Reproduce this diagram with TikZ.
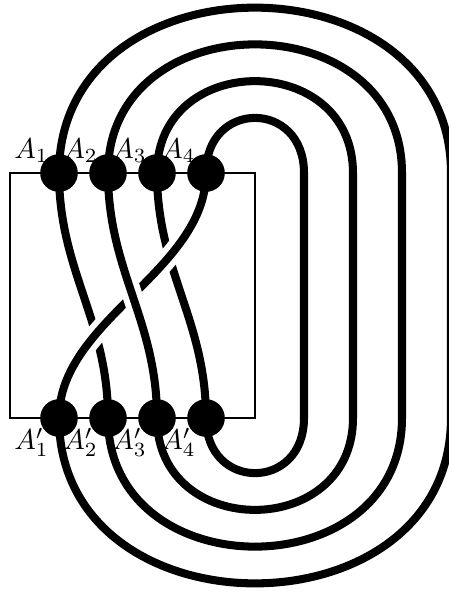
\documentclass[tikz,border=0pt]{standalone}
\begin{document}
\begin{tikzpicture}[x=0.6cm,y=0.6cm,
  dot/.style={circle,fill=black,inner sep=0pt,minimum size=0.461cm},
  strand/.style={black,line width=2.8pt},
  halo/.style={white,line width=7pt},
  lbl/.style={inner sep=3.33pt}]
\clip (-0.204,-3.551) rectangle (8.959,8.531);
\useasboundingbox (-0.204,-3.551) rectangle (8.959,8.531);
% positions of the strand ends
\foreach \i in {1,2,3,4}{
  \coordinate (a\i) at (\i,5);
  \coordinate (b\i) at (\i,0);
}
% box
\draw (0,0) rectangle (5,5);
% closure loops
\draw[strand] (a4) .. controls +(0,1.5) and +(0,1.5) .. ++(2,0) -- ++(0,-5)
  .. controls +(0,-1.5) and +(0,-1.5) .. (b4);
\draw[strand] (a3) .. controls +(0,2.5) and +(0,2.5) .. ++(4,0) -- ++(0,-5)
  .. controls +(0,-2.5) and +(0,-2.5) .. (b3);
\draw[strand] (a2) .. controls +(0,3.5) and +(0,3.5) .. ++(6,0) -- ++(0,-5)
  .. controls +(0,-3.5) and +(0,-3.5) .. (b2);
\draw[strand] (a1) .. controls +(0,4.5) and +(0,4.5) .. ++(8,0) -- ++(0,-5)
  .. controls +(0,-4.5) and +(0,-4.5) .. (b1);
% braid strands
\draw[strand] (a1) .. controls +(0,-2) and +(0,2) .. (b2);
\draw[strand] (a3) .. controls +(0,-2) and +(0,2) .. (b4);
\draw[halo] (a4) .. controls +(0,-2) and +(0,2) .. (b1);
\draw[strand] (a4) .. controls +(0,-2) and +(0,2) .. (b1);
\draw[halo] (a2) .. controls +(0,-2) and +(0,2) .. (b3);
\draw[strand] (a2) .. controls +(0,-2) and +(0,2) .. (b3);
% dots
\foreach \i in {1,2,3,4}{
  \node[dot] (A\i) at (a\i) {};
  \node[dot] (B\i) at (b\i) {};
  \node[lbl,above left] (LA\i) at (a\i) {$A_\i$};
  \node[lbl,below left] (LB\i) at (b\i) {$A_\i'$};
}
\end{tikzpicture}
\end{document}
